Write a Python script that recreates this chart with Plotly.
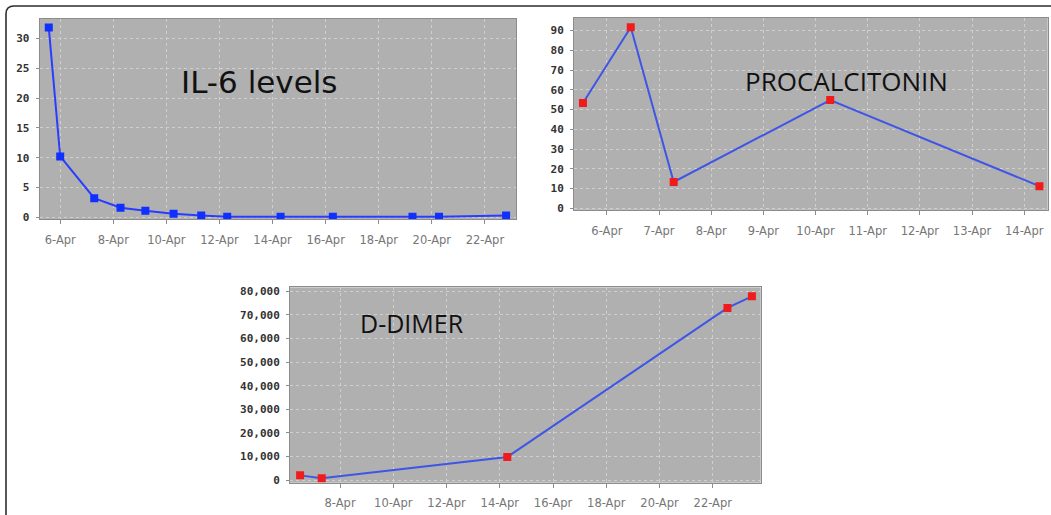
import plotly.graph_objects as go

# ---------------- data ----------------
il6_dates = ["2020-04-05 13:40", "2020-04-06 00:00", "2020-04-07 06:45", "2020-04-08 06:30",
             "2020-04-09 05:00", "2020-04-10 06:30", "2020-04-11 07:30", "2020-04-12 07:00",
             "2020-04-14 07:15", "2020-04-16 06:30", "2020-04-19 06:30", "2020-04-20 06:30",
             "2020-04-22 19:10"]
il6_values = [31.8, 10.2, 3.2, 1.6, 1.1, 0.6, 0.3, 0.1, 0.1, 0.1, 0.1, 0.1, 0.3]

pct_dates = ["2020-04-05 13:00", "2020-04-06 11:00", "2020-04-07 06:45",
             "2020-04-10 06:45", "2020-04-14 07:00"]
pct_values = [53.3, 91.7, 13.3, 54.8, 11.2]

dd_dates = ["2020-04-06 12:00", "2020-04-07 07:30", "2020-04-14 06:45",
            "2020-04-22 13:12", "2020-04-23 11:17"]
dd_values = [2000, 800, 9800, 73000, 77900]

titles = ["IL-6 levels", "PROCALCITONIN", "D-DIMER"]

W, H = 1051, 515
DAY = 86400000

def px(x):
    return x / W

def py(y):
    return 1 - y / H

fig = go.Figure()

fig.add_trace(go.Scatter(x=il6_dates, y=il6_values, xaxis="x", yaxis="y", mode="lines+markers",
                         line=dict(color="#2a3cff", width=2),
                         marker=dict(symbol="square", size=8, color="#1030ff"),
                         showlegend=False))
fig.add_trace(go.Scatter(x=pct_dates, y=pct_values, xaxis="x2", yaxis="y2", mode="lines+markers",
                         line=dict(color="#3f55e6", width=2),
                         marker=dict(symbol="square", size=8, color="#f01c1c"),
                         showlegend=False))
fig.add_trace(go.Scatter(x=dd_dates, y=dd_values, xaxis="x3", yaxis="y3", mode="lines+markers",
                         line=dict(color="#3f55e6", width=2),
                         marker=dict(symbol="square", size=8, color="#f01c1c"),
                         showlegend=False))

xfont = dict(family="DejaVu Sans", size=11.5, color="#767676")
yfont = dict(family="DejaVu Sans Mono", size=11, color="#333333", weight="bold")

common_x = dict(type="date", tickformat="%-d-%b", showgrid=True, gridcolor="#cfcfcf",
                griddash="dot", gridwidth=1, showline=True, mirror=True, linecolor="#8c8c8c",
                linewidth=1, ticks="outside", ticklen=4, tickcolor="#8c8c8c",
                tickfont=xfont, ticklabelstandoff=6, zeroline=False, fixedrange=True)
common_y = dict(showgrid=True, gridcolor="#cfcfcf", griddash="dot", gridwidth=1,
                showline=True, mirror=True, linecolor="#8c8c8c", linewidth=1,
                ticks="outside", ticklen=3, tickcolor="#8c8c8c", tickfont=yfont,
                ticklabelstandoff=4, zeroline=False, fixedrange=True)

fig.update_layout(
    width=W, height=H, margin=dict(l=0, r=0, t=0, b=0),
    paper_bgcolor="white", plot_bgcolor="#b0b0b0",
    xaxis=dict(common_x, domain=[px(39.6), px(516)], anchor="y",
               range=["2020-04-05 05:22", "2020-04-23 04:06"],
               tick0="2020-04-06", dtick=2 * DAY),
    yaxis=dict(common_y, domain=[py(220), py(17)], anchor="x",
               range=[-0.28, 33.28], dtick=5),
    xaxis2=dict(common_x, domain=[px(574), px(1047.7)], anchor="y2",
                range=["2020-04-05 08:53", "2020-04-14 10:48"],
                tick0="2020-04-06", dtick=DAY),
    yaxis2=dict(common_y, domain=[py(210.7), py(16)], anchor="x2",
                range=[-0.8, 96.5], dtick=10),
    xaxis3=dict(common_x, domain=[px(290), px(760.7)], anchor="y3",
                range=["2020-04-06 02:53", "2020-04-23 19:12"],
                tick0="2020-04-08", dtick=2 * DAY),
    yaxis3=dict(common_y, domain=[py(487.3), py(289.3)], anchor="x3",
                range=[-1100, 81700], dtick=10000, tickformat=",d"),
)

fig.add_annotation(x=px(259.5), y=py(81), xref="paper", yref="paper", text=titles[0],
                   showarrow=False, xanchor="center", yanchor="middle",
                   font=dict(family="DejaVu Sans", size=31, color="#111111"))
fig.add_annotation(x=px(846.7), y=py(80.5), xref="paper", yref="paper", text=titles[1],
                   showarrow=False, xanchor="center", yanchor="middle",
                   font=dict(family="Open Sans", size=26, color="#111111"))
fig.add_annotation(x=px(412), y=py(325), xref="paper", yref="paper", text=titles[2],
                   showarrow=False, xanchor="center", yanchor="middle",
                   font=dict(family="Open Sans", size=25, color="#111111"))

# outer rounded frame (continues past right and bottom edges)
x0, y0, r = 6, 4, 8
rx, ry = r / W, r / H
path = (f"M {px(x0)},{py(H + 20)} L {px(x0)},{py(y0) - ry} "
        f"Q {px(x0)},{py(y0)} {px(x0) + rx},{py(y0)} L {px(W + 20)},{py(y0)}")
fig.add_shape(type="path", path=path, xref="paper", yref="paper",
              line=dict(color="#2e2e2e", width=1.6), layer="above")

fig.write_html("out.html", config={"displayModeBar": False},
               post_script="document.body.style.margin='0px';")
